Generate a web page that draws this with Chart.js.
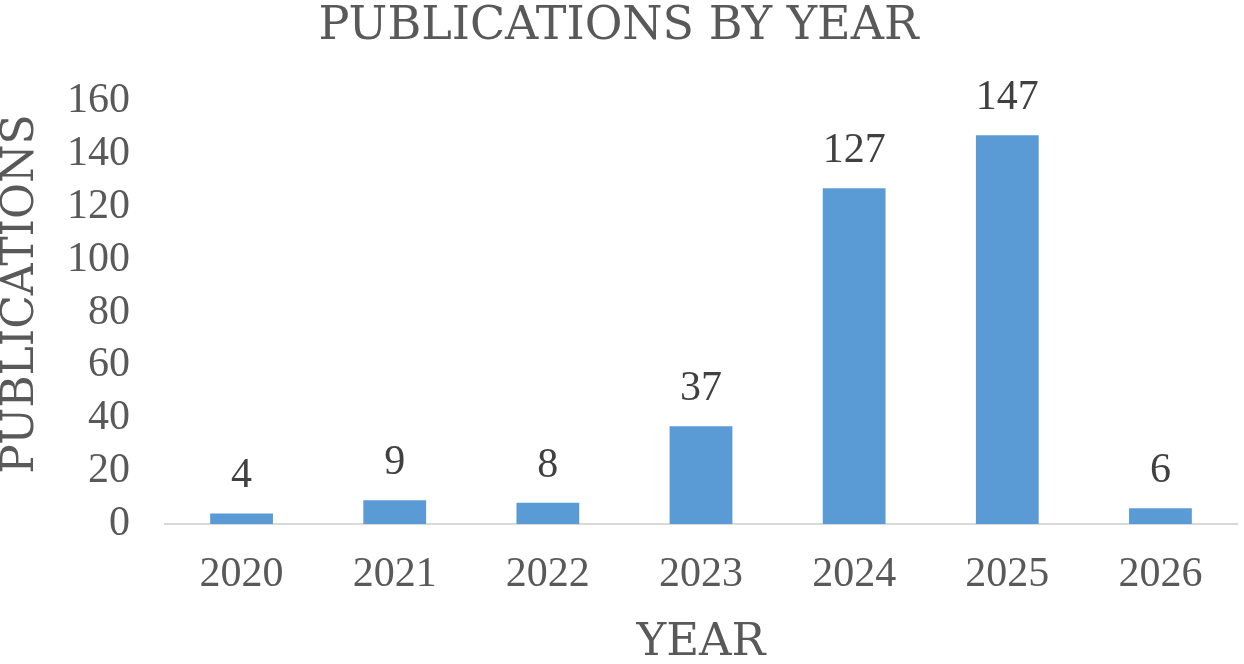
<!DOCTYPE html>
<html>
<head>
<meta charset="utf-8">
<title>Publications by year</title>
<script src="https://cdn.jsdelivr.net/npm/chart.js@4/dist/chart.umd.min.js"></script>
<style>
  html, body { margin: 0; padding: 0; background: #fff; }
  #wrap { width: 1244px; height: 664px; }
</style>
</head>
<body>
<div id="wrap"><canvas id="pubChart"></canvas></div>
<script>
// data
const YEARS = ["2020", "2021", "2022", "2023", "2024", "2025", "2026"];
const PUBLICATIONS = [4, 9, 8, 37, 127, 147, 6];
const Y_TICKS = [0, 20, 40, 60, 80, 100, 120, 140, 160];

const SERIF_NUM = "'Liberation Serif', 'Times New Roman', serif";
const SERIF_TITLE = "'DejaVu Serif', serif";
const GREY = "#595959";

// value labels above each bar
const barLabels = {
  id: "barLabels",
  afterDatasetsDraw(chart) {
    const ctx = chart.ctx;
    const meta = chart.getDatasetMeta(0);
    ctx.save();
    ctx.font = "42px " + SERIF_NUM;
    ctx.fillStyle = "#404040";
    ctx.textAlign = "center";
    ctx.textBaseline = "alphabetic";
    meta.data.forEach(function(bar, i) {
      ctx.fillText(String(PUBLICATIONS[i]), bar.x, bar.y - 26);
    });
    ctx.restore();
  }
};

// rotated y axis title, placed a bit above the axis centre like the original
const yTitle = {
  id: "yTitle",
  afterDraw(chart) {
    const ctx = chart.ctx;
    ctx.save();
    ctx.translate(22, 294);
    ctx.rotate(-Math.PI / 2);
    ctx.font = "44px " + SERIF_TITLE;
    ctx.fillStyle = GREY;
    ctx.textAlign = "center";
    ctx.textBaseline = "middle";
    ctx.fillText("PUBLICATIONS", 0, 0);
    ctx.restore();
  }
};

new Chart(document.getElementById("pubChart"), {
  type: "bar",
  data: {
    labels: YEARS,
    datasets: [{
      label: "Publications",
      data: PUBLICATIONS,
      backgroundColor: "#5b9bd5",
      borderWidth: 0,
      categoryPercentage: 1,
      barPercentage: 0.41
    }]
  },
  options: {
    responsive: true,
    maintainAspectRatio: false,
    animation: false,
    layout: { padding: { left: 0, right: 7, top: 0, bottom: 0 } },
    scales: {
      x: {
        grid: { display: false, drawTicks: false },
        border: { display: true, color: "#d9d9d9", width: 2 },
        ticks: { color: GREY, padding: 30, font: { family: SERIF_NUM, size: 42, lineHeight: 1 } },
        title: {
          display: true,
          text: "YEAR",
          color: GREY,
          font: { family: SERIF_TITLE, size: 45, lineHeight: 0.9 },
          padding: { top: 0, bottom: 0 }
        },
        afterFit(scale) { scale.height = 140; }
      },
      y: {
        min: 0,
        max: 160,
        afterBuildTicks(scale) { scale.ticks = Y_TICKS.map(function(v) { return { value: v }; }); },
        grid: { display: false, drawTicks: false },
        border: { display: false },
        ticks: { color: GREY, padding: 35, font: { family: SERIF_NUM, size: 42, lineHeight: 1 } },
        afterFit(scale) { scale.width = 165; }
      }
    },
    plugins: {
      legend: { display: false },
      tooltip: { enabled: false },
      title: {
        display: true,
        text: "PUBLICATIONS BY YEAR",
        color: GREY,
        font: { family: SERIF_TITLE, size: 46, weight: "normal", lineHeight: 1 },
        padding: { top: 4, bottom: 51 }
      }
    }
  },
  plugins: [barLabels, yTitle]
});
</script>
</body>
</html>
